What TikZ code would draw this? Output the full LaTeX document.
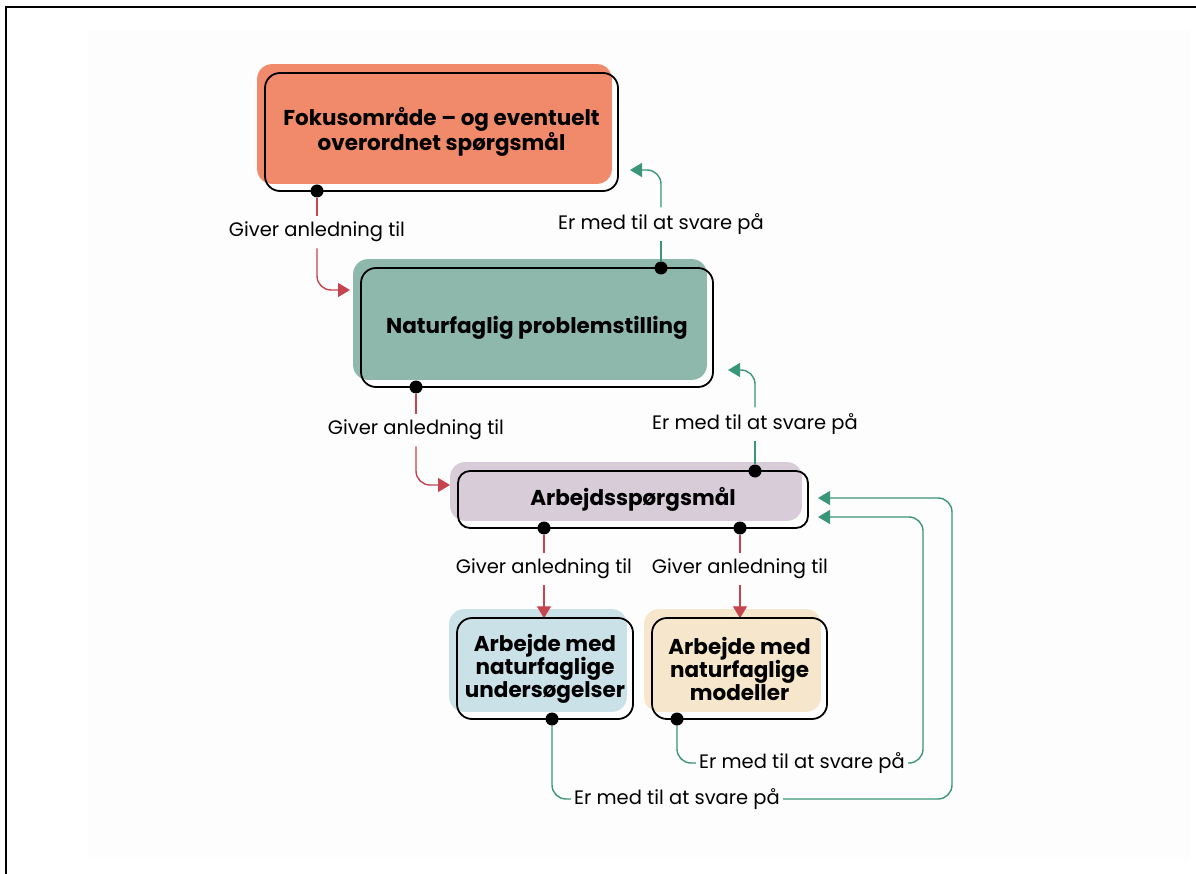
\documentclass[tikz,border=0pt]{standalone}
\usepackage{fontspec}
\setmainfont{Poppins}
\usepackage{tikz}
\usetikzlibrary{arrows.meta, backgrounds, positioning}

\definecolor{fokusfill}{RGB}{240,138,106}
\definecolor{natfill}{RGB}{143,184,173}
\definecolor{arbfill}{RGB}{217,204,217}
\definecolor{undfill}{RGB}{202,225,231}
\definecolor{modfill}{RGB}{246,230,203}
\definecolor{giverred}{RGB}{198,68,78}
\definecolor{svargreen}{RGB}{58,150,120}

\tikzset{
    box/.style={draw, line width=1.8pt, rounded corners=15pt, align=center,
        font=\fontsize{21.5}{23}\selectfont\bfseries},
    lbl/.style={inner sep=6pt, font=\fontsize{19.5}{22}\selectfont},
    dot/.style={circle, fill=black, inner sep=0pt, minimum size=13pt},
    giver/.style={giverred, line width=1.4pt, rounded corners=14pt},
    svar/.style={svargreen, line width=1.4pt, rounded corners=14pt},
    tip/.style={-{Triangle[length=12pt,width=14pt]}},
}

\newcommand{\boxfill}[2]{%
    \begin{scope}[on background layer]
        \fill[#2, rounded corners=15pt] ([shift={(-7,-8)}]#1.north west) rectangle ([shift={(-7,-8)}]#1.south east);
    \end{scope}}

\begin{document}
\begin{tikzpicture}[x=1pt, y=-1pt]
    \useasboundingbox (0,0) rectangle (1196,874);
    \begin{scope}[on background layer]
    \fill[black!0.8] (88,30) rectangle (1190,860);
    \end{scope}
    \draw[line width=2.5pt] (6,874) -- (6,7) -- (1196,7);

    % the five boxes
    \node[box, minimum width=353pt, minimum height=118pt] (fokus) at (441.5,132) {Fokusområde -- og eventuelt\\overordnet spørgsmål};
    \node[box, minimum width=352pt, minimum height=119pt] (natur) at (537,327.5) {Naturfaglig problemstilling};
    \node[box, minimum width=350pt, minimum height=57pt, rounded corners=12pt] (arb) at (633,499.5) {Arbejdsspørgsmål};
    \node[box, minimum width=176pt, minimum height=101pt] (unders) at (545,668.5) {Arbejde med\\naturfaglige\\undersøgelser};
    \node[box, minimum width=175pt, minimum height=101pt] (model) at (739.5,668.5) {Arbejde med\\naturfaglige\\modeller};
    \boxfill{fokus}{fokusfill}
    \boxfill{natur}{natfill}
    \boxfill{arb}{arbfill}
    \boxfill{unders}{undfill}
    \boxfill{model}{modfill}

    % dots on the box edges
    \node[dot] (d1) at (317,191) {};
    \node[dot] (d2) at (661,268) {};
    \node[dot] (d3) at (416,387) {};
    \node[dot] (d4) at (755,471) {};
    \node[dot] (d5) at (544,528) {};
    \node[dot] (d6) at (740,528) {};
    \node[dot] (d7) at (552,719) {};
    \node[dot] (d8) at (677,719) {};

    % labels
    \node[lbl] (g1) at (317,232) {Giver anledning til};
    \node[lbl] (e1) at (661,224) {Er med til at svare på};
    \node[lbl] (g2) at (416,430) {Giver anledning til};
    \node[lbl] (e2) at (755,424) {Er med til at svare på};
    \node[lbl] (g3) at (544,569) {Giver anledning til};
    \node[lbl] (g4) at (740,569) {Giver anledning til};
    \node[lbl, inner xsep=3pt] (e3) at (802,763) {Er med til at svare på};
    \node[lbl, inner xsep=3pt] (e4) at (677,799) {Er med til at svare på};

    % arrow ends
    \coordinate (t1) at (630,170);
    \coordinate (t2) at (350,290);
    \coordinate (t3) at (728,370);
    \coordinate (t4) at (450,485);
    \coordinate (c5) at (923,517);
    \coordinate (t5) at (818,517);
    \coordinate (c6) at (952,498);
    \coordinate (t6) at (818,498);

    \begin{scope}[on background layer]
    \draw[giver] (d1) -- (g1.north);
    \draw[giver, tip] (g1.south) |- (t2);
    \draw[svar] (d2) -- (e1.south);
    \draw[svar, tip] (e1.north) |- (t1);
    \draw[giver] (d3) -- (g2.north);
    \draw[giver, tip] (g2.south) |- (t4);
    \draw[svar] (d4) -- (e2.south);
    \draw[svar, tip] (e2.north) |- (t3);
    \draw[giver] (d5) -- (g3.north);
    \draw[giver, tip] (g3.south) -- ++(0,33);
    \draw[giver] (d6) -- (g4.north);
    \draw[giver, tip] (g4.south) -- ++(0,33);
    \draw[svar] (d8) |- (e3.west);
    \draw[svar, tip] (e3.east) -| (c5) -- (t5);
    \draw[svar] (d7) |- (e4.west);
    \draw[svar, tip] (e4.east) -| (c6) -- (t6);
    \end{scope}
\end{tikzpicture}
\end{document}
